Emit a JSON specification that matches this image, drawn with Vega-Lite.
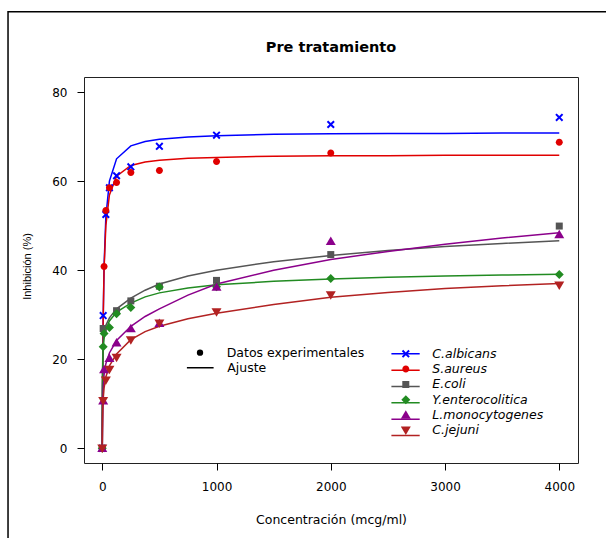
{
  "$schema": "https://vega.github.io/schema/vega-lite/v6.json",
  "width": 494,
  "height": 386,
  "autosize": {"type": "none"},
  "padding": {"left": 84, "top": 77, "right": 28, "bottom": 75},
  "background": "white",
  "title": {"text": "Pre tratamiento", "anchor": "middle", "frame": "group", "font": "DejaVu Sans", "fontSize": 14.5, "fontWeight": "bold", "color": "#000", "baseline": "alphabetic", "offset": -55},
  "config": {
    "view": {"stroke": "#222", "strokeWidth": 1},
    "axis": {"grid": false, "domain": false, "tickColor": "#000", "tickSize": 7, "tickWidth": 1, "labelFont": "DejaVu Sans", "labelFontSize": 12, "labelColor": "#000", "titleFont": "DejaVu Sans", "titleFontSize": 12.5, "titleFontWeight": "normal", "titleColor": "#000"},
    "legend": {"padding": 0, "labelFont": "DejaVu Sans", "labelFontSize": 12.5, "labelColor": "#000", "labelLimit": 300}
  },
  "datasets": {
    "fits": [
      {"sp": "C.albicans", "conc": 0, "inh": 0}, {"sp": "C.albicans", "conc": 1, "inh": 5.7}, {"sp": "C.albicans", "conc": 2, "inh": 10.5}, {"sp": "C.albicans", "conc": 4, "inh": 18.3}, {"sp": "C.albicans", "conc": 7.8, "inh": 28.7}, {"sp": "C.albicans", "conc": 15.6, "inh": 40.9}, {"sp": "C.albicans", "conc": 31.25, "inh": 51.9}, {"sp": "C.albicans", "conc": 62.5, "inh": 60.0}, {"sp": "C.albicans", "conc": 125, "inh": 65.0}, {"sp": "C.albicans", "conc": 250, "inh": 67.9}, {"sp": "C.albicans", "conc": 375, "inh": 68.9}, {"sp": "C.albicans", "conc": 500, "inh": 69.4}, {"sp": "C.albicans", "conc": 750, "inh": 69.9}, {"sp": "C.albicans", "conc": 1000, "inh": 70.2}, {"sp": "C.albicans", "conc": 1500, "inh": 70.5}, {"sp": "C.albicans", "conc": 2000, "inh": 70.6}, {"sp": "C.albicans", "conc": 2500, "inh": 70.7}, {"sp": "C.albicans", "conc": 3000, "inh": 70.7}, {"sp": "C.albicans", "conc": 3500, "inh": 70.8}, {"sp": "C.albicans", "conc": 4000, "inh": 70.8},
      {"sp": "S.aureus", "conc": 0, "inh": 0}, {"sp": "S.aureus", "conc": 1, "inh": 6.0}, {"sp": "S.aureus", "conc": 2, "inh": 11.0}, {"sp": "S.aureus", "conc": 4, "inh": 18.9}, {"sp": "S.aureus", "conc": 7.8, "inh": 28.9}, {"sp": "S.aureus", "conc": 15.6, "inh": 40.2}, {"sp": "S.aureus", "conc": 31.25, "inh": 50.0}, {"sp": "S.aureus", "conc": 62.5, "inh": 56.9}, {"sp": "S.aureus", "conc": 125, "inh": 61.1}, {"sp": "S.aureus", "conc": 250, "inh": 63.5}, {"sp": "S.aureus", "conc": 375, "inh": 64.3}, {"sp": "S.aureus", "conc": 500, "inh": 64.7}, {"sp": "S.aureus", "conc": 750, "inh": 65.1}, {"sp": "S.aureus", "conc": 1000, "inh": 65.3}, {"sp": "S.aureus", "conc": 1500, "inh": 65.6}, {"sp": "S.aureus", "conc": 2000, "inh": 65.7}, {"sp": "S.aureus", "conc": 2500, "inh": 65.7}, {"sp": "S.aureus", "conc": 3000, "inh": 65.8}, {"sp": "S.aureus", "conc": 3500, "inh": 65.8}, {"sp": "S.aureus", "conc": 4000, "inh": 65.8},
      {"sp": "E.coli", "conc": 0, "inh": 0}, {"sp": "E.coli", "conc": 1, "inh": 12}, {"sp": "E.coli", "conc": 2, "inh": 16}, {"sp": "E.coli", "conc": 4, "inh": 20.5}, {"sp": "E.coli", "conc": 7.8, "inh": 24.5}, {"sp": "E.coli", "conc": 15.6, "inh": 26.3}, {"sp": "E.coli", "conc": 31.25, "inh": 27.6}, {"sp": "E.coli", "conc": 62.5, "inh": 29.3}, {"sp": "E.coli", "conc": 125, "inh": 31.3}, {"sp": "E.coli", "conc": 250, "inh": 33.7}, {"sp": "E.coli", "conc": 375, "inh": 35.5}, {"sp": "E.coli", "conc": 500, "inh": 36.9}, {"sp": "E.coli", "conc": 750, "inh": 38.7}, {"sp": "E.coli", "conc": 1000, "inh": 40.0}, {"sp": "E.coli", "conc": 1500, "inh": 41.9}, {"sp": "E.coli", "conc": 2000, "inh": 43.3}, {"sp": "E.coli", "conc": 2500, "inh": 44.4}, {"sp": "E.coli", "conc": 3000, "inh": 45.3}, {"sp": "E.coli", "conc": 3500, "inh": 46.0}, {"sp": "E.coli", "conc": 4000, "inh": 46.6},
      {"sp": "Y.enterocolitica", "conc": 0, "inh": 0}, {"sp": "Y.enterocolitica", "conc": 1, "inh": 10}, {"sp": "Y.enterocolitica", "conc": 2, "inh": 14}, {"sp": "Y.enterocolitica", "conc": 4, "inh": 18.5}, {"sp": "Y.enterocolitica", "conc": 7.8, "inh": 22.3}, {"sp": "Y.enterocolitica", "conc": 15.6, "inh": 24.6}, {"sp": "Y.enterocolitica", "conc": 31.25, "inh": 26.6}, {"sp": "Y.enterocolitica", "conc": 62.5, "inh": 28.6}, {"sp": "Y.enterocolitica", "conc": 125, "inh": 30.6}, {"sp": "Y.enterocolitica", "conc": 250, "inh": 32.6}, {"sp": "Y.enterocolitica", "conc": 375, "inh": 34.0}, {"sp": "Y.enterocolitica", "conc": 500, "inh": 34.9}, {"sp": "Y.enterocolitica", "conc": 750, "inh": 36.0}, {"sp": "Y.enterocolitica", "conc": 1000, "inh": 36.7}, {"sp": "Y.enterocolitica", "conc": 1500, "inh": 37.5}, {"sp": "Y.enterocolitica", "conc": 2000, "inh": 38.0}, {"sp": "Y.enterocolitica", "conc": 2500, "inh": 38.4}, {"sp": "Y.enterocolitica", "conc": 3000, "inh": 38.7}, {"sp": "Y.enterocolitica", "conc": 3500, "inh": 38.9}, {"sp": "Y.enterocolitica", "conc": 4000, "inh": 39.1},
      {"sp": "L.monocytogenes", "conc": 0, "inh": 0}, {"sp": "L.monocytogenes", "conc": 1, "inh": 4}, {"sp": "L.monocytogenes", "conc": 2, "inh": 6.5}, {"sp": "L.monocytogenes", "conc": 4, "inh": 10}, {"sp": "L.monocytogenes", "conc": 7.8, "inh": 13.5}, {"sp": "L.monocytogenes", "conc": 15.6, "inh": 16.5}, {"sp": "L.monocytogenes", "conc": 31.25, "inh": 19.0}, {"sp": "L.monocytogenes", "conc": 62.5, "inh": 21.4}, {"sp": "L.monocytogenes", "conc": 125, "inh": 24.2}, {"sp": "L.monocytogenes", "conc": 250, "inh": 27.4}, {"sp": "L.monocytogenes", "conc": 375, "inh": 29.6}, {"sp": "L.monocytogenes", "conc": 500, "inh": 31.3}, {"sp": "L.monocytogenes", "conc": 750, "inh": 34.4}, {"sp": "L.monocytogenes", "conc": 1000, "inh": 36.9}, {"sp": "L.monocytogenes", "conc": 1500, "inh": 40.0}, {"sp": "L.monocytogenes", "conc": 2000, "inh": 42.4}, {"sp": "L.monocytogenes", "conc": 2500, "inh": 44.2}, {"sp": "L.monocytogenes", "conc": 3000, "inh": 45.8}, {"sp": "L.monocytogenes", "conc": 3500, "inh": 47.2}, {"sp": "L.monocytogenes", "conc": 4000, "inh": 48.4},
      {"sp": "C.jejuni", "conc": 0, "inh": 0}, {"sp": "C.jejuni", "conc": 1, "inh": 3.5}, {"sp": "C.jejuni", "conc": 2, "inh": 5.5}, {"sp": "C.jejuni", "conc": 4, "inh": 8.5}, {"sp": "C.jejuni", "conc": 7.8, "inh": 11.0}, {"sp": "C.jejuni", "conc": 15.6, "inh": 13.5}, {"sp": "C.jejuni", "conc": 31.25, "inh": 16.0}, {"sp": "C.jejuni", "conc": 62.5, "inh": 18.5}, {"sp": "C.jejuni", "conc": 125, "inh": 21.2}, {"sp": "C.jejuni", "conc": 250, "inh": 24.4}, {"sp": "C.jejuni", "conc": 375, "inh": 26.2}, {"sp": "C.jejuni", "conc": 500, "inh": 27.4}, {"sp": "C.jejuni", "conc": 750, "inh": 29.1}, {"sp": "C.jejuni", "conc": 1000, "inh": 30.3}, {"sp": "C.jejuni", "conc": 1500, "inh": 32.3}, {"sp": "C.jejuni", "conc": 2000, "inh": 33.9}, {"sp": "C.jejuni", "conc": 2500, "inh": 35.0}, {"sp": "C.jejuni", "conc": 3000, "inh": 35.9}, {"sp": "C.jejuni", "conc": 3500, "inh": 36.5}, {"sp": "C.jejuni", "conc": 4000, "inh": 37.0}
    ],
    "obs": [
      {"sp": "C.albicans", "conc": 0, "inh": 0}, {"sp": "C.albicans", "conc": 7.8, "inh": 29.8}, {"sp": "C.albicans", "conc": 31.25, "inh": 52.5}, {"sp": "C.albicans", "conc": 62.5, "inh": 58.5}, {"sp": "C.albicans", "conc": 125, "inh": 61.2}, {"sp": "C.albicans", "conc": 250, "inh": 63.2}, {"sp": "C.albicans", "conc": 500, "inh": 67.8}, {"sp": "C.albicans", "conc": 1000, "inh": 70.3}, {"sp": "C.albicans", "conc": 2000, "inh": 72.7}, {"sp": "C.albicans", "conc": 4000, "inh": 74.3},
      {"sp": "S.aureus", "conc": 0, "inh": 0}, {"sp": "S.aureus", "conc": 15.6, "inh": 40.8}, {"sp": "S.aureus", "conc": 31.25, "inh": 53.4}, {"sp": "S.aureus", "conc": 62.5, "inh": 58.5}, {"sp": "S.aureus", "conc": 125, "inh": 59.7}, {"sp": "S.aureus", "conc": 250, "inh": 61.9}, {"sp": "S.aureus", "conc": 500, "inh": 62.4}, {"sp": "S.aureus", "conc": 1000, "inh": 64.4}, {"sp": "S.aureus", "conc": 2000, "inh": 66.3}, {"sp": "S.aureus", "conc": 4000, "inh": 68.7},
      {"sp": "E.coli", "conc": 0, "inh": 0}, {"sp": "E.coli", "conc": 7.8, "inh": 26.9}, {"sp": "E.coli", "conc": 125, "inh": 30.9}, {"sp": "E.coli", "conc": 250, "inh": 33.1}, {"sp": "E.coli", "conc": 500, "inh": 36.4}, {"sp": "E.coli", "conc": 1000, "inh": 37.7}, {"sp": "E.coli", "conc": 2000, "inh": 43.5}, {"sp": "E.coli", "conc": 4000, "inh": 49.9},
      {"sp": "Y.enterocolitica", "conc": 0, "inh": 0}, {"sp": "Y.enterocolitica", "conc": 7.8, "inh": 22.8}, {"sp": "Y.enterocolitica", "conc": 15.6, "inh": 25.8}, {"sp": "Y.enterocolitica", "conc": 62.5, "inh": 27.1}, {"sp": "Y.enterocolitica", "conc": 125, "inh": 30.2}, {"sp": "Y.enterocolitica", "conc": 250, "inh": 31.6}, {"sp": "Y.enterocolitica", "conc": 500, "inh": 36.2}, {"sp": "Y.enterocolitica", "conc": 1000, "inh": 36.3}, {"sp": "Y.enterocolitica", "conc": 2000, "inh": 38.1}, {"sp": "Y.enterocolitica", "conc": 4000, "inh": 39.0},
      {"sp": "L.monocytogenes", "conc": 0, "inh": 0}, {"sp": "L.monocytogenes", "conc": 7.8, "inh": 10.7}, {"sp": "L.monocytogenes", "conc": 15.6, "inh": 17.7}, {"sp": "L.monocytogenes", "conc": 62.5, "inh": 20.2}, {"sp": "L.monocytogenes", "conc": 125, "inh": 23.7}, {"sp": "L.monocytogenes", "conc": 250, "inh": 26.9}, {"sp": "L.monocytogenes", "conc": 500, "inh": 28.1}, {"sp": "L.monocytogenes", "conc": 1000, "inh": 36.2}, {"sp": "L.monocytogenes", "conc": 2000, "inh": 46.5}, {"sp": "L.monocytogenes", "conc": 4000, "inh": 48.0},
      {"sp": "C.jejuni", "conc": 0, "inh": 0}, {"sp": "C.jejuni", "conc": 7.8, "inh": 10.7}, {"sp": "C.jejuni", "conc": 31.25, "inh": 15.3}, {"sp": "C.jejuni", "conc": 62.5, "inh": 17.7}, {"sp": "C.jejuni", "conc": 125, "inh": 20.4}, {"sp": "C.jejuni", "conc": 250, "inh": 24.3}, {"sp": "C.jejuni", "conc": 500, "inh": 28.1}, {"sp": "C.jejuni", "conc": 1000, "inh": 30.6}, {"sp": "C.jejuni", "conc": 2000, "inh": 34.4}, {"sp": "C.jejuni", "conc": 4000, "inh": 36.6}
    ]
  },
  "layer": [
    {
      "data": {"name": "fits"},
      "mark": {"type": "line", "interpolate": "linear"},
      "encoding": {
        "x": {"field": "conc", "type": "quantitative", "title": "Concentración (mcg/ml)", "scale": {"domain": [-160, 4164], "nice": false, "zero": false},
              "axis": {"values": [0, 1000, 2000, 3000, 4000], "format": "d", "labelPadding": 11, "titleY": 60, "titleBaseline": "alphabetic"}},
        "y": {"field": "inh", "type": "quantitative", "title": "Inhibición (%)", "scale": {"domain": [-3.3, 83.37], "nice": false, "zero": false},
              "axis": {"values": [0, 20, 40, 60, 80], "labelPadding": 10, "labelAngle": 0, "titleFont": "Liberation Sans", "titleFontSize": 11, "titleAngle": -90, "titleX": -53.5, "titleY": 189, "titleAlign": "center", "titleBaseline": "alphabetic"}},
        "stroke": {"field": "sp", "type": "nominal",
                   "sort": ["C.albicans", "S.aureus", "E.coli", "Y.enterocolitica", "L.monocytogenes", "C.jejuni"],
                   "scale": {"range": ["#0000FF", "#E00000", "#555555", "#228B22", "#8B008B", "#B22222"]},
                   "legend": {"orient": "none", "legendX": 306.55, "legendY": 270.8, "title": null, "symbolType": "stroke", "symbolSize": 800, "symbolStrokeWidth": 1.5, "clipHeight": 12, "rowPadding": 3.35, "labelExpr": "''"}},
        "strokeWidth": {"datum": "Ajuste", "type": "ordinal", "scale": {"range": [1.5, 1.5]},
                   "legend": {"orient": "none", "legendX": 101.75, "legendY": 284.7, "title": null, "symbolType": "stroke", "symbolSize": 713, "symbolStrokeColor": "#000", "clipHeight": 12, "labelOffset": 12.45}}
      }
    },
    {
      "data": {"name": "obs"},
      "mark": {"type": "point", "filled": true, "size": 100, "opacity": 1},
      "encoding": {
        "x": {"field": "conc", "type": "quantitative", "title": "Concentración (mcg/ml)", "scale": {"domain": [-160, 4164], "nice": false, "zero": false}},
        "y": {"field": "inh", "type": "quantitative", "title": "Inhibición (%)", "scale": {"domain": [-3.3, 83.37], "nice": false, "zero": false}},
        "color": {"field": "sp", "type": "nominal",
                  "scale": {"domain": ["C.albicans", "S.aureus", "E.coli", "Y.enterocolitica", "L.monocytogenes", "C.jejuni"],
                            "range": ["#0000FF", "#E00000", "#555555", "#228B22", "#8B008B", "#B22222"]},
                  "legend": {"orient": "none", "legendX": 315.55, "legendY": 270.8, "title": null, "symbolSize": 100, "symbolStrokeWidth": 0, "clipHeight": 12, "rowPadding": 2.3, "labelFontStyle": "italic", "labelOffset": 20.25}},
        "shape": {"field": "sp", "type": "nominal",
                  "scale": {"domain": ["C.albicans", "S.aureus", "E.coli", "Y.enterocolitica", "L.monocytogenes", "C.jejuni"],
                            "range": ["M-0.52,-0.8L0,-0.28L0.52,-0.8L0.8,-0.52L0.28,0L0.8,0.52L0.52,0.8L0,0.28L-0.52,0.8L-0.8,0.52L-0.28,0L-0.8,-0.52Z",
                                      "M0.7,0A0.7,0.7,0,1,1,-0.7,0A0.7,0.7,0,1,1,0.7,0Z",
                                      "M-0.7,-0.7L0.7,-0.7L0.7,0.7L-0.7,0.7Z",
                                      "M0,-0.9L0.9,0L0,0.9L-0.9,0Z",
                                      "M0,-0.95L1,0.75L-1,0.75Z",
                                      "M0,0.95L1,-0.75L-1,-0.75Z"]}},
        "opacity": {"datum": "Datos experimentales", "type": "ordinal", "scale": {"range": [1, 1]},
                    "legend": {"orient": "none", "legendX": 109.75, "legendY": 269.45, "title": null, "symbolType": "circle", "symbolSize": 40, "symbolFillColor": "#000", "symbolStrokeWidth": 0, "labelOffset": 20.45}}
      }
    },
    {
      "data": {"values": [{}]},
      "mark": {"type": "rect", "filled": false, "stroke": "#000", "strokeWidth": 1.5, "clip": false},
      "encoding": {
        "x": {"datum": -825, "type": "quantitative", "title": "Concentración (mcg/ml)", "scale": {"domain": [-160, 4164], "nice": false, "zero": false}},
        "x2": {"datum": 4700},
        "y": {"datum": 98, "type": "quantitative", "title": "Inhibición (%)", "scale": {"domain": [-3.3, 83.37], "nice": false, "zero": false}},
        "y2": {"datum": -30}
      }
    }
  ]
}
